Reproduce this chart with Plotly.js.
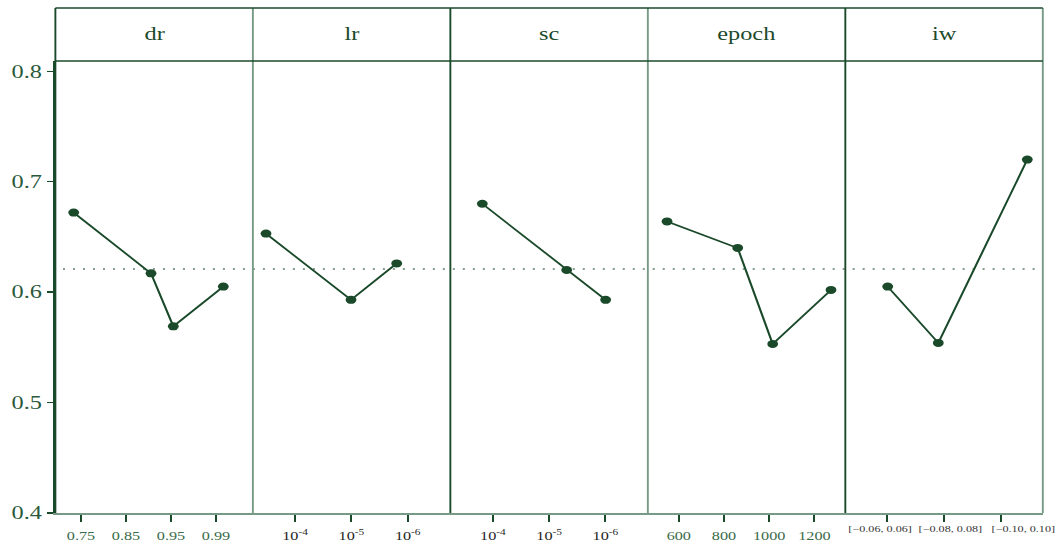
<!DOCTYPE html>
<html>
<head>
<meta charset="utf-8">
<script src="https://cdn.plot.ly/plotly-3.0.1.min.js"></script>
<style>
  html, body { margin: 0; padding: 0; background: #ffffff; overflow: hidden; }
  #wrap { width: 1059px; height: 544px; overflow: hidden; }
  /* the figure is laid out narrow and stretched horizontally */
  #chart { width: 784px; height: 544px; transform-origin: 0 0; transform: scaleX(1.3508); }
</style>
</head>
<body>
<div id="wrap"><div id="chart"></div></div>
<script>
// Factor names shown in the panel headers
const factors = ['dr', 'lr', 'sc', 'epoch', 'iw'];

// Level labels for each factor
const drLevels = ['0.75', '0.85', '0.95', '0.99'];
const lrLevels = ['10<sup>-4</sup>', '10<sup>-5</sup>', '10<sup>-6</sup>'];
const scLevels = ['10<sup>-4</sup>', '10<sup>-5</sup>', '10<sup>-6</sup>'];
const epochLevels = ['600', '800', '1000', '1200'];
const iwLevels = ['[\u22120.06, 0.06]', '[\u22120.08, 0.08]', '[\u22120.10, 0.10]'];

// Mean response per level
const drMeans = [0.672, 0.617, 0.569, 0.605];
const lrMeans = [0.653, 0.593, 0.626];
const scMeans = [0.680, 0.620, 0.593];
const epochMeans = [0.664, 0.640, 0.553, 0.602];
const iwMeans = [0.605, 0.554, 0.720];

// Horizontal placement of each mean along its panel (in level units)
const drPos = [-0.162, 1.556, 2.051, 3.162];
const lrPos = [-0.515, 0.994, 1.805];
const scPos = [-0.188, 1.312, 2.005];
const epochPos = [-0.26, 1.303, 2.077, 3.367];
const iwPos = [0.007, 0.900, 2.471];

// The iw interval labels are wider than their tick spacing, so they are spread out
const iwLabelPos = [-0.14, 1.116, 2.395];

// Overall mean shown as the dotted reference line
const grandMean = 0.621;

// Value axis ticks
const yTicks = [0.4, 0.5, 0.6, 0.7, 0.8];
const yTickText = ['0.4', '0.5', '0.6', '0.7', '0.8'];

const panels = [
  { levels: drLevels, means: drMeans, pos: drPos, range: [-0.569, 3.819], color: '#3b6b4a', size: 12, labels: true },
  { levels: lrLevels, means: lrMeans, pos: lrPos, range: [-0.748, 2.757], color: '#1e1e1e', size: 12, labels: true },
  { levels: scLevels, means: scMeans, pos: scPos, range: [-0.756, 2.755], color: '#1e1e1e', size: 12, labels: true },
  { levels: epochLevels, means: epochMeans, pos: epochPos, range: [-0.685, 3.684], color: '#3b6b4a', size: 12, labels: true },
  { levels: iwLevels, means: iwMeans, pos: iwPos, range: [-0.741, 2.745], color: '#333333', size: 9, labels: false }
];

const DARK = '#1b4a2b';
const LIGHT = '#779a86';
const SERIF = '"Liberation Serif", "Times New Roman", Times, serif';
const headerBottom = 0.8951;

const traces = [];
const layout = {
  width: 784,
  height: 544,
  autosize: false,
  margin: { l: 41, r: 12, t: 8, b: 31 },
  paper_bgcolor: '#ffffff',
  plot_bgcolor: '#ffffff',
  showlegend: false,
  font: { family: SERIF, color: DARK },
  yaxis: {
    domain: [0, headerBottom],
    range: [0.4, 0.8093],
    tickmode: 'array',
    tickvals: yTicks,
    ticktext: yTickText,
    ticks: 'outside',
    ticklen: 5,
    tickwidth: 1.4,
    tickcolor: DARK,
    tickfont: { family: SERIF, size: 18, color: '#2a5a3a' },
    showline: true,
    linecolor: DARK,
    linewidth: 1.4,
    showgrid: false,
    zeroline: false,
    anchor: 'x',
    fixedrange: true
  },
  shapes: [],
  annotations: []
};

panels.forEach((p, i) => {
  const suffix = i === 0 ? '' : String(i + 1);
  const d0 = i / 5, d1 = (i + 1) / 5;
  traces.push({
    type: 'scatter',
    mode: 'lines+markers',
    x: p.pos,
    y: p.means,
    xaxis: 'x' + suffix,
    yaxis: 'y',
    line: { color: DARK, width: 1.6 },
    marker: { color: DARK, size: 8 },
    hoverinfo: 'skip'
  });
  layout['xaxis' + suffix] = {
    domain: [d0, d1],
    range: p.range,
    tickmode: 'array',
    tickvals: p.levels.map((_, k) => k),
    ticktext: p.levels,
    showticklabels: p.labels,
    tickangle: 0,
    ticks: 'outside',
    ticklen: 7,
    tickwidth: 1.6,
    tickcolor: DARK,
    ticklabelstandoff: 4,
    tickfont: { family: SERIF, size: p.size, color: p.color },
    showline: true,
    linecolor: LIGHT,
    linewidth: 1.5,
    showgrid: false,
    zeroline: false,
    anchor: 'y',
    fixedrange: true
  };
  if (!p.labels) {
    p.levels.forEach((lab, k) => {
      layout.annotations.push({
        text: lab,
        xref: 'x' + suffix, yref: 'paper',
        x: iwLabelPos[k], y: 0,
        yshift: -16,
        xanchor: 'center', yanchor: 'middle',
        showarrow: false,
        font: { family: SERIF, size: p.size, color: p.color }
      });
    });
  }
  // header label
  layout.annotations.push({
    text: factors[i],
    xref: 'paper', yref: 'paper',
    x: (d0 + d1) / 2, y: (headerBottom + 1) / 2,
    xanchor: 'center', yanchor: 'middle',
    showarrow: false,
    font: { family: SERIF, size: 18, color: DARK }
  });
});

// panel frame: vertical separators, top edge and header rule
const sepColors = [DARK, LIGHT, DARK, LIGHT, DARK, LIGHT];
sepColors.forEach((c, k) => {
  layout.shapes.push({
    type: 'line', xref: 'paper', yref: 'paper',
    x0: k / 5, x1: k / 5, y0: 0, y1: 1,
    line: { color: c, width: 1.4 }
  });
});
layout.shapes.push({
  type: 'line', xref: 'paper', yref: 'paper',
  x0: 0, x1: 1, y0: 1, y1: 1,
  line: { color: DARK, width: 1.4 }
});
layout.shapes.push({
  type: 'line', xref: 'paper', yref: 'paper',
  x0: 0, x1: 1, y0: headerBottom, y1: headerBottom,
  line: { color: DARK, width: 1.4 }
});
// dotted overall-mean line
layout.shapes.push({
  type: 'line', xref: 'paper', yref: 'y',
  x0: 0.0077, x1: 1, y0: grandMean, y1: grandMean,
  line: { color: '#5d7f6b', width: 1.5, dash: '1.5px,5.9px' },
  layer: 'below'
});

Plotly.newPlot('chart', traces, layout, { displayModeBar: false, staticPlot: true });
</script>
</body>
</html>
